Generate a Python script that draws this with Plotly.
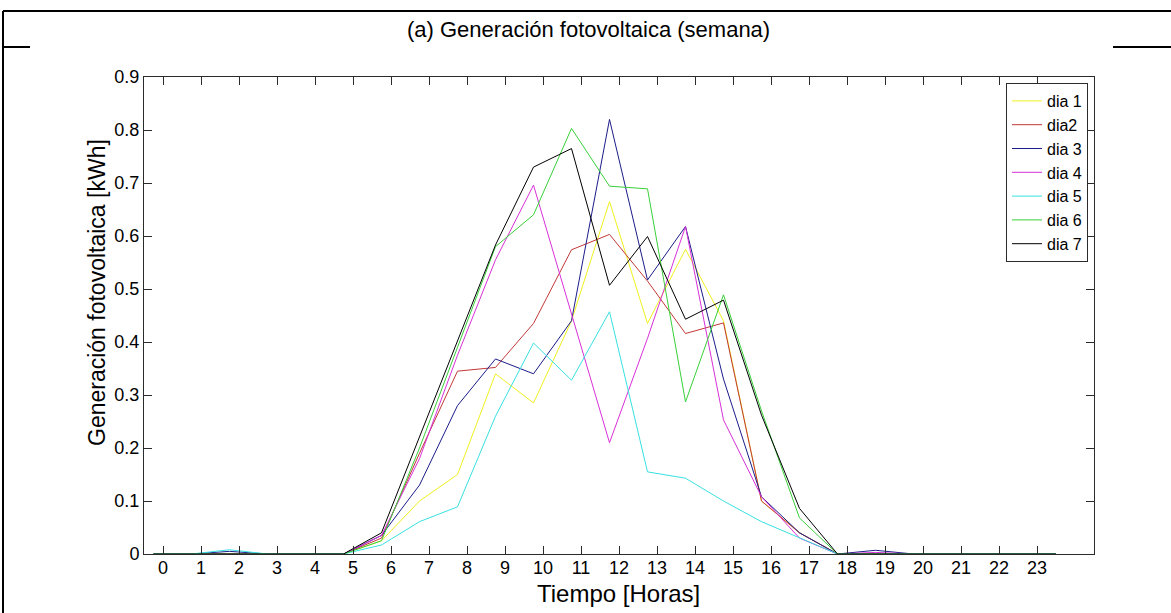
import plotly.graph_objects as go

# Hour positions of the samples (15-minute offset) and daily PV generation [kWh]
hours = [-0.25, 0.75, 1.75, 2.75, 3.75, 4.75, 5.75, 6.75, 7.75, 8.75, 9.75, 10.75,
         11.75, 12.75, 13.75, 14.75, 15.75, 16.75, 17.75, 18.75, 19.75, 20.75,
         21.75, 22.75, 23.5]

dia1 = [0, 0, 0, 0, 0, 0, 0.025, 0.10, 0.15, 0.34, 0.285, 0.44, 0.665, 0.435,
        0.575, 0.44, 0.10, 0.04, 0, 0, 0, 0, 0, 0, 0]
dia2 = [0, 0, 0, 0, 0, 0, 0.03, 0.19, 0.345, 0.352, 0.435, 0.574, 0.603, 0.515,
        0.416, 0.436, 0.10, 0.04, 0, 0, 0, 0, 0, 0, 0]
dia3 = [0, 0, 0.005, 0, 0, 0, 0.035, 0.13, 0.28, 0.368, 0.34, 0.44, 0.82, 0.517,
        0.618, 0.33, 0.108, 0.04, 0, 0.007, 0, 0, 0, 0, 0]
dia4 = [0, 0, 0, 0, 0, 0, 0.035, 0.18, 0.375, 0.555, 0.696, 0.455, 0.21, 0.407,
        0.618, 0.253, 0.108, 0.03, 0, 0.003, 0, 0, 0, 0, 0]
dia5 = [0, 0, 0.008, 0, 0, 0, 0.017, 0.061, 0.089, 0.26, 0.398, 0.328, 0.457, 0.155,
        0.143, 0.10, 0.061, 0.031, 0, 0, 0, 0, 0, 0, 0]
dia6 = [0, 0, 0, 0, 0, 0, 0.025, 0.20, 0.39, 0.58, 0.64, 0.803, 0.694, 0.689,
        0.287, 0.489, 0.27, 0.068, 0, 0, 0, 0, 0, 0, 0]
dia7 = [0, 0, 0, 0, 0, 0, 0.04, 0.22, 0.40, 0.583, 0.73, 0.765, 0.507, 0.599,
        0.443, 0.479, 0.262, 0.086, 0, 0, 0, 0, 0, 0, 0]

series_names = ["dia 1", "dia2", "dia 3", "dia 4", "dia 5", "dia 6", "dia 7"]
series_values = [dia1, dia2, dia3, dia4, dia5, dia6, dia7]
series_colors = ["#f0f020", "#c23838", "#1c1c8a", "#d830d8", "#38e0e0", "#38d038", "#000000"]

x_ticks = list(range(24))
y_ticks = [0, 0.1, 0.2, 0.3, 0.4, 0.5, 0.6, 0.7, 0.8, 0.9]
y_tick_text = ["0", "0.1", "0.2", "0.3", "0.4", "0.5", "0.6", "0.7", "0.8", "0.9"]

W, H = 1171, 613
L, R, T, B = 144, 1094, 77, 554  # plot-area edges in pixels


def px(x):
    return (x - L) / (R - L)


def py(y):
    return (B - y) / (B - T)


FONT = "Liberation Sans, Arial, Helvetica, sans-serif"

fig = go.Figure()
for name, vals, col in zip(series_names, series_values, series_colors):
    fig.add_trace(go.Scatter(x=hours, y=vals, name=name, mode="lines",
                             line=dict(color=col, width=1)))

axis_common = dict(showline=True, linecolor="#2b2b2b", linewidth=1, mirror="ticks",
                   ticks="inside", ticklen=8, tickcolor="#2b2b2b", showgrid=False,
                   zeroline=False, tickfont=dict(family=FONT, size=18, color="#000"))

fig.update_xaxes(range=[-0.5, 24.5], tickmode="array", tickvals=x_ticks,
                 ticktext=[str(v) for v in x_ticks], ticklabelstandoff=-3, **axis_common)
fig.update_yaxes(range=[0, 0.9], tickmode="array", tickvals=y_ticks,
                 ticktext=y_tick_text, **axis_common)

# Frame of the surrounding table cell
frame = dict(color="#000", width=2)
shapes = [
    dict(type="line", xref="paper", yref="paper", x0=px(3), x1=px(W), y0=py(11), y1=py(11), line=frame),
    dict(type="line", xref="paper", yref="paper", x0=px(3), x1=px(3), y0=py(11), y1=py(H), line=frame),
    dict(type="line", xref="paper", yref="paper", x0=px(3), x1=px(30), y0=py(47), y1=py(47), line=frame),
    dict(type="line", xref="paper", yref="paper", x0=px(1113), x1=px(W), y0=py(47), y1=py(47), line=frame),
]

annotations = [
    dict(text="(a) Generación fotovoltaica (semana)", xref="paper", yref="paper",
         x=px(588), y=py(29), showarrow=False, xanchor="center", yanchor="middle",
         font=dict(family=FONT, size=22, color="#000")),
    dict(text="Tiempo [Horas]", xref="paper", yref="paper", x=px(618), y=py(593),
         showarrow=False, xanchor="center", yanchor="middle",
         font=dict(family=FONT, size=24, color="#000")),
    dict(text="Generación fotovoltaica [kWh]", xref="paper", yref="paper", x=px(97), y=py(293),
         showarrow=False, xanchor="center", yanchor="middle", textangle=-90,
         font=dict(family=FONT, size=23, color="#000")),
]

fig.update_layout(
    width=W, height=H,
    margin=dict(l=L, r=W - R, t=T, b=H - B, pad=0),
    paper_bgcolor="white", plot_bgcolor="white",
    showlegend=True,
    legend=dict(x=px(1088), y=py(83), xanchor="right", yanchor="top",
                bgcolor="white", bordercolor="#2b2b2b", borderwidth=1,
                font=dict(family=FONT, size=16, color="#000"),
                tracegroupgap=0, itemwidth=30),
    shapes=shapes,
    annotations=annotations,
)

fig.write_html("out.html")
